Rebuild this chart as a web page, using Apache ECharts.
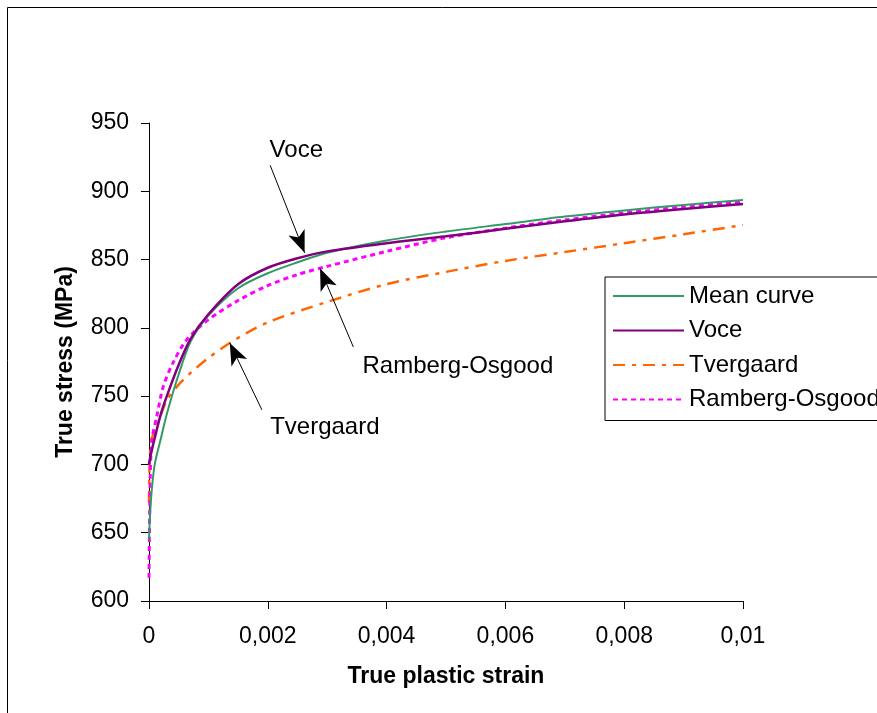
<!DOCTYPE html>
<html>
<head>
<meta charset="utf-8">
<script src="https://cdn.jsdelivr.net/npm/echarts@6/dist/echarts.min.js"></script>
<style>
  html, body { margin: 0; padding: 0; background: #fff; }
  #chart { width: 877px; height: 713px; }
</style>
</head>
<body>
<div id="chart"></div>
<script>
// strain values and stresses
const meanStrain = [0, 0.00002, 0.00005, 0.0001, 0.0002, 0.0003, 0.0005, 0.0007, 0.001, 0.0015, 0.002, 0.0025, 0.003, 0.004, 0.005, 0.006, 0.007, 0.008, 0.009, 0.01];
const meanStress = [645, 665, 683, 701, 719, 737, 766, 790, 809, 829, 840, 848, 855, 864, 870.5, 876, 881.5, 886, 890, 893.6];

const voceStrain = [0, 0.00002, 0.00005, 0.0001, 0.0002, 0.0003, 0.0005, 0.0007, 0.001, 0.0015, 0.002, 0.0025, 0.003, 0.004, 0.005, 0.006, 0.007, 0.008, 0.009, 0.01];
const voceStress = [700, 705, 711, 720, 737, 750, 773, 792, 810, 832, 844, 851, 856, 862, 867, 872.5, 878, 883, 887, 890.7];

const tverStrain = [0, 0.00003, 0.00013, 0.0003, 0.00047, 0.0007, 0.001, 0.0014, 0.002, 0.003, 0.004, 0.005, 0.006, 0.007, 0.008, 0.009, 0.01];
const tverStress = [672, 716, 728, 747, 757, 767, 778, 790, 804, 819, 832, 841, 849, 855.5, 862, 868.5, 875.3];

const roStrain = [0, 0.00002, 0.00005, 0.00013, 0.00024, 0.0004, 0.00063, 0.001, 0.0015, 0.002, 0.0025, 0.003, 0.004, 0.005, 0.006, 0.007, 0.008, 0.009, 0.01];
const roStress = [617, 690, 718, 735, 757, 774, 791, 806, 820, 831, 839, 845, 856, 866, 873, 879, 884, 888.5, 892.3];

const seriesNames = ["Mean curve", "Voce", "Tvergaard", "Ramberg-Osgood"];
const colors = ["#339966", "#800080", "#ff6600", "#ff00ff"];

// annotation texts and arrows (data coordinates)
const notes = [
  { text: "Voce", at: [0.00248, 930], from: [0.00204, 919], to: [0.00262, 855] },
  { text: "Ramberg-Osgood", at: [0.0052, 772], from: [0.00344, 786], to: [0.00288, 843.5] },
  { text: "Tvergaard", at: [0.00296, 727], from: [0.0019, 740], to: [0.00136, 789] },
];

const font = "Liberation Sans, Arial, sans-serif";
const zip = (xs, ys) => xs.map((x, i) => [x, ys[i]]);

const myChart = echarts.init(document.getElementById("chart"));

const options = {
  backgroundColor: "#fff",
  animation: false,
  textStyle: { fontFamily: font, color: "#000" },
  graphic: [
    {
      type: "rect",
      left: 5,
      top: 5,
      shape: { width: 900, height: 740 },
      style: { fill: "none", stroke: "#000", lineWidth: 1 },
      silent: true,
      z: -1,
    },
  ],
  grid: {
    left: 149,
    right: 134,
    top: 123,
    bottom: 112,
  },
  legend: {
    orient: "vertical",
    left: 605,
    top: 277,
    padding: [7, 20, 9, 7],
    itemWidth: 71,
    itemHeight: 14,
    itemGap: 10.5,
    borderColor: "#000",
    borderWidth: 1,
    backgroundColor: "#fff",
    itemStyle: { opacity: 0 },
    textStyle: { fontFamily: font, fontSize: 24, lineHeight: 24, color: "#000" },
    data: seriesNames,
  },
  xAxis: {
    type: "value",
    min: 0,
    max: 0.01,
    interval: 0.002,
    name: "True plastic strain",
    nameLocation: "middle",
    nameGap: 64,
    nameTextStyle: { fontFamily: font, fontSize: 23, fontWeight: "bold", color: "#000" },
    axisLine: { lineStyle: { color: "#000", width: 1 } },
    axisTick: { show: true, length: 8, lineStyle: { color: "#000" } },
    axisLabel: {
      margin: 24,
      fontSize: 23,
      color: "#000",
      fontFamily: font,
      formatter: (v) => String(+v.toFixed(4)).replace(".", ","),
    },
    splitLine: { show: false },
  },
  yAxis: {
    type: "value",
    min: 600,
    max: 950,
    interval: 50,
    name: "True stress (MPa)",
    nameLocation: "middle",
    nameGap: 72,
    nameTextStyle: { fontFamily: font, fontSize: 23, fontWeight: "bold", color: "#000" },
    axisLine: { show: true, lineStyle: { color: "#000", width: 1 } },
    axisTick: { show: true, length: 8, lineStyle: { color: "#000" } },
    axisLabel: { margin: 20, fontSize: 23, color: "#000", fontFamily: font },
    splitLine: { show: false },
  },
  series: [
    {
      name: seriesNames[0],
      type: "line",
      symbol: "none",
      smooth: 0.3,
      data: zip(meanStrain, meanStress),
      itemStyle: { color: colors[0] },
      lineStyle: { color: colors[0], width: 2 },
      z: 3,
      markLine: {
        silent: true,
        symbol: ["none", "arrow"],
        symbolSize: [13, 22],
        label: { show: false },
        lineStyle: { color: "#000", width: 1, type: "solid" },
        data: notes.map((n) => [{ coord: n.from }, { coord: n.to }]),
      },
      markPoint: {
        silent: true,
        symbol: "circle",
        symbolSize: 0,
        label: {
          show: true,
          position: "inside",
          fontSize: 24,
          color: "#000",
          fontFamily: font,
          formatter: (p) => p.name,
        },
        data: notes.map((n) => ({ name: n.text, coord: n.at })),
      },
    },
    {
      name: seriesNames[1],
      type: "line",
      symbol: "none",
      smooth: 0.3,
      data: zip(voceStrain, voceStress),
      itemStyle: { color: colors[1] },
      lineStyle: { color: colors[1], width: 2.5 },
      z: 4,
    },
    {
      name: seriesNames[2],
      type: "line",
      symbol: "none",
      smooth: 0.3,
      data: zip(tverStrain, tverStress),
      itemStyle: { color: colors[2] },
      lineStyle: { color: colors[2], width: 2.5, type: [12, 7, 4, 7] },
      z: 2,
    },
    {
      name: seriesNames[3],
      type: "line",
      symbol: "none",
      smooth: 0.3,
      data: zip(roStrain, roStress),
      itemStyle: { color: colors[3] },
      lineStyle: { color: colors[3], width: 3, type: [5, 4] },
      z: 2,
    },
  ],
};

myChart.setOption(options);
</script>
</body>
</html>
